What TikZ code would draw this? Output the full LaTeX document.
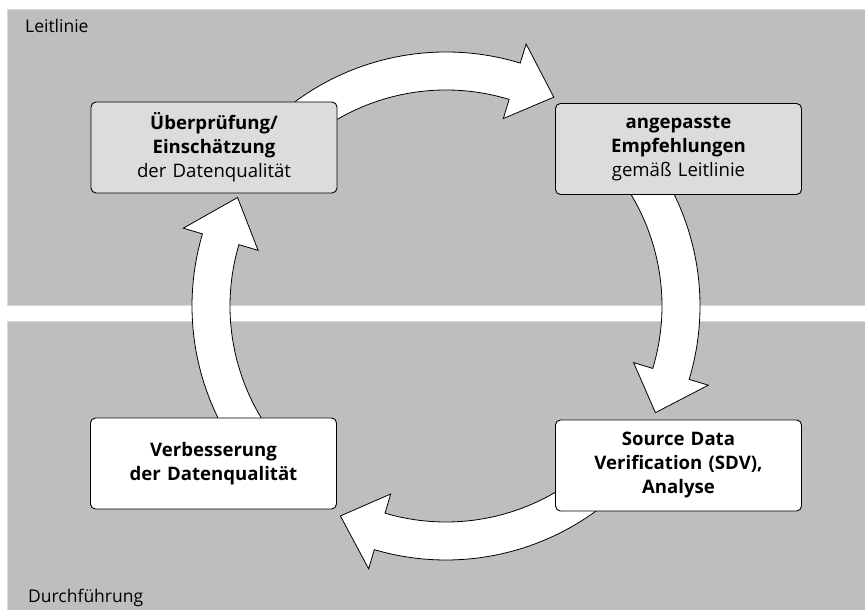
\documentclass[tikz,border=0pt]{standalone}
\usepackage{fontspec}
\setmainfont{Open Sans}
\usetikzlibrary{positioning}

\definecolor{panelgray}{HTML}{BEBEBE}
\definecolor{paneledge}{HTML}{D8D8D8}
\definecolor{boxgray}{HTML}{DCDCDC}

\tikzset{
  panel/.style={fill=panelgray, draw=paneledge, line width=1pt},
  stage/.style={rectangle, rounded corners=5pt, draw=black, line width=0.9pt,
    minimum width=246pt, minimum height=91pt, text width=236pt, align=center,
    font=\fontsize{18.6}{24}\selectfont, inner sep=0pt},
  stagetop/.style={stage, fill=boxgray},
  stagebot/.style={stage, fill=white},
  cyclearrow/.style={fill=white, draw=black, line width=0.8pt, line join=miter},
  lanelabel/.style={anchor=base west, inner sep=0pt, font=\fontsize{17.5}{20}\selectfont}
}

\begin{document}
\begin{tikzpicture}[x=1pt,y=1pt]
\useasboundingbox (0,0) rectangle (865,610);

% lanes
\fill[panel] (7.5,304.5) rectangle (866,600.5);
\fill[panel] (7.5,-1) rectangle (866,288);
\node[lanelabel] (leit) at (25,577) {Leitlinie};
\node[lanelabel] (durch) at (28,7) {Durchführung};

% cycle arrows (tail / head base / tip angle)
\coordinate (mid) at (446,304);
\foreach \t/\b/\p in {140/73/62.7, 50/-16.8/-27, -40/-106.4/-116.7, 230/163.5/152.5}{
  \draw[cyclearrow, shift={(mid)}] (\t:254) arc[start angle=\t, end angle=\b, radius=254]
    -- (\b:274) -- (\p:235) -- (\b:196) -- (\b:216)
    arc[start angle=\b, end angle=\t, radius=216] -- cycle;
}

% stages
\node[stagetop] (pruef) at (214,462.5) {\textbf{Überprüfung/}\\\textbf{Einschätzung}\\der Datenqualität};
\node[stagetop] (empf) at (678.5,461) {\textbf{angepasste}\\\textbf{Empfehlungen}\\gemäß Leitlinie};
\node[stagebot] (sdv) at (678.5,144.5) {\textbf{Source Data}\\\textbf{Verification (SDV),}\\\textbf{Analyse}};
\node[stagebot] (verb) at (213.5,146.5) {\textbf{Verbesserung}\\\textbf{der Datenqualität}};

\end{tikzpicture}
\end{document}
